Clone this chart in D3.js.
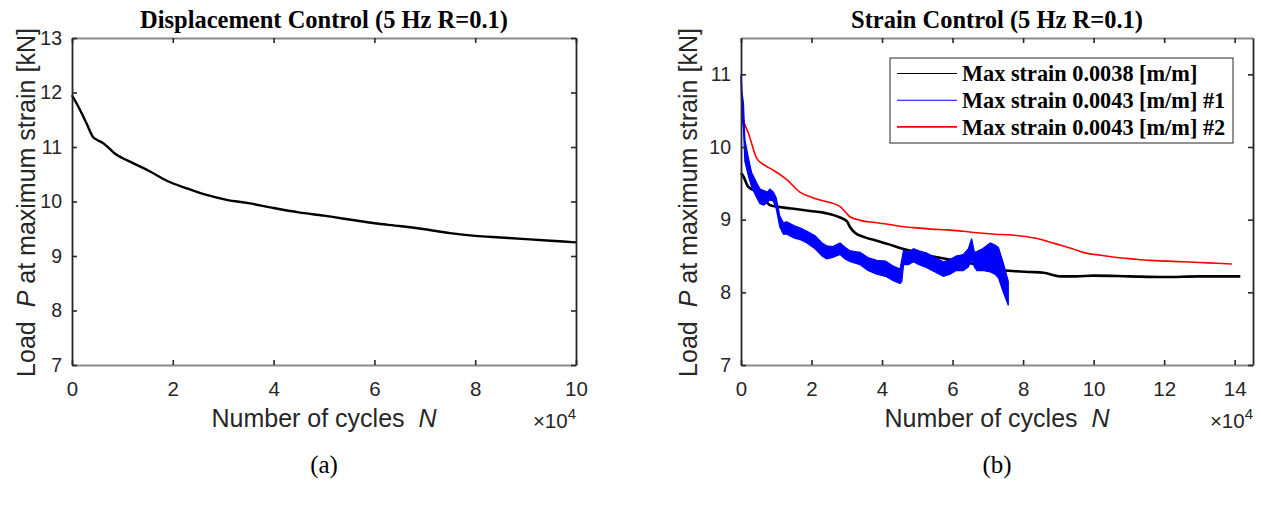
<!DOCTYPE html>
<html>
<head>
<meta charset="utf-8">
<script src="https://cdn.jsdelivr.net/npm/d3@7"></script>
<style>
  body { margin: 0; background: #fff; }
  .tickText { font-family: Arial, "Liberation Sans", sans-serif; fill: #262626; }
  .axisLabel { font-family: Arial, "Liberation Sans", sans-serif; font-size: 25px; fill: #262626; white-space: pre; }
  .title { font-family: "Times New Roman", "Liberation Serif", serif; font-weight: bold; font-size: 24.5px; fill: #000; }
  .caption { font-family: "Times New Roman", "Liberation Serif", serif; font-size: 25px; fill: #000; }
  .legendText { font-family: "Times New Roman", "Liberation Serif", serif; font-weight: bold; font-size: 22.3px; fill: #000; }
</style>
</head>
<body>
<svg id="chart" width="1261" height="507"></svg>
<script>

/////////////////////////////////
// DATA (cycles in units of 10^4, load in kN)
//////////////////////////////////

// (a) displacement control
var dispCycles = [0, 0.16, 0.29, 0.42, 0.5, 0.62, 0.85, 1.22, 1.55, 1.88, 2.28, 2.67, 3.07, 3.5, 4.0, 4.5, 5.0, 5.5, 6.0, 6.5, 7.0, 7.5, 8.0, 8.5, 9.0, 9.5, 10];
var dispLoad   = [11.95, 11.68, 11.43, 11.18, 11.13, 11.07, 10.88, 10.70, 10.55, 10.38, 10.24, 10.12, 10.03, 9.97, 9.88, 9.80, 9.74, 9.67, 9.60, 9.55, 9.49, 9.42, 9.37, 9.34, 9.31, 9.28, 9.25];

// (b) strain control, max strain 0.0038
var s38Cycles = [0, 0.05, 0.21, 0.54, 0.82, 1.0, 1.5, 1.96, 2.4, 2.81, 3.0, 3.09, 3.23, 3.5, 3.85, 4.2, 4.51, 4.9, 5.27, 5.6, 5.93, 6.3, 6.7, 7.0, 7.35, 7.8, 8.2, 8.58, 9.05, 9.5, 10, 11, 12, 13, 14.16];
var s38Load   = [9.64, 9.61, 9.45, 9.36, 9.2, 9.18, 9.15, 9.12, 9.09, 9.03, 8.98, 8.9, 8.82, 8.76, 8.71, 8.66, 8.61, 8.56, 8.51, 8.48, 8.45, 8.42, 8.38, 8.35, 8.31, 8.29, 8.28, 8.27, 8.22, 8.22, 8.23, 8.22, 8.21, 8.22, 8.22];

// (b) max strain 0.0043 #1 -- very noisy, so kept as upper / lower envelope of the band
var s43aCycles = [0, 0.03, 0.07, 0.11, 0.21, 0.3, 0.45, 0.54, 0.65, 0.75, 0.82, 0.92, 1.0, 1.1, 1.2, 1.3, 1.5, 1.7, 1.87, 2.1, 2.3, 2.43, 2.6, 2.81, 2.95, 3.1, 3.38, 3.6, 3.85, 4.1, 4.32, 4.51, 4.56, 4.61, 4.75, 4.89, 5.05, 5.27, 5.5, 5.74, 5.93, 6.1, 6.3, 6.45, 6.54, 6.62, 6.69, 6.85, 7.07, 7.2, 7.3, 7.44, 7.58];
var s43aUpper  = [11.0, 10.75, 10.6, 10.1, 9.85, 9.65, 9.5, 9.42, 9.4, 9.38, 9.42, 9.38, 9.3, 9.05, 8.96, 8.97, 8.92, 8.88, 8.84, 8.78, 8.68, 8.64, 8.63, 8.68, 8.62, 8.57, 8.55, 8.48, 8.44, 8.43, 8.36, 8.32, 8.45, 8.58, 8.55, 8.6, 8.57, 8.54, 8.48, 8.42, 8.45, 8.5, 8.52, 8.6, 8.74, 8.55, 8.56, 8.6, 8.68, 8.65, 8.62, 8.4, 8.15];
var s43aLower  = [10.9, 10.4, 10.25, 9.8, 9.6, 9.45, 9.3, 9.22, 9.2, 9.24, 9.28, 9.25, 9.15, 8.9, 8.8, 8.8, 8.75, 8.72, 8.68, 8.6, 8.5, 8.46, 8.48, 8.52, 8.46, 8.42, 8.38, 8.3, 8.25, 8.22, 8.16, 8.12, 8.15, 8.38, 8.38, 8.42, 8.38, 8.34, 8.28, 8.22, 8.25, 8.3, 8.3, 8.35, 8.45, 8.35, 8.3, 8.3, 8.28, 8.25, 8.2, 8.0, 7.82];

// (b) max strain 0.0043 #2
var s43bCycles = [0, 0.02, 0.1, 0.21, 0.45, 0.7, 0.92, 1.3, 1.67, 2.0, 2.24, 2.81, 3.09, 3.38, 3.8, 4.13, 4.5, 4.89, 5.4, 5.84, 6.3, 6.69, 7.2, 7.63, 8.29, 8.7, 9.05, 9.4, 9.7, 10.2, 10.66, 11.1, 11.6, 12.1, 12.55, 13.0, 13.5, 13.92];
var s43bLoad   = [10.44, 10.44, 10.32, 10.19, 9.84, 9.74, 9.68, 9.55, 9.38, 9.31, 9.27, 9.18, 9.04, 8.99, 8.96, 8.94, 8.91, 8.89, 8.87, 8.86, 8.84, 8.82, 8.80, 8.79, 8.75, 8.70, 8.65, 8.60, 8.55, 8.51, 8.48, 8.46, 8.44, 8.43, 8.42, 8.41, 8.40, 8.39];

var legendLabels = ["Max strain 0.0038 [m/m]", "Max strain 0.0043 [m/m] #1", "Max strain 0.0043 [m/m] #2"];
var legendColors = ["#000000", "#0000ff", "#ff0000"];

var xTicksA = [0, 2, 4, 6, 8, 10];
var yTicksA = [7, 8, 9, 10, 11, 12, 13];
var xTicksB = [0, 2, 4, 6, 8, 10, 12, 14];
var yTicksB = [7, 8, 9, 10, 11];

var titles = ["Displacement Control (5 Hz R=0.1)", "Strain Control (5 Hz R=0.1)"];
var captions = ["(a)", "(b)"];


/////////////////////////////////
// HELPERS
//////////////////////////////////

var svg = d3.select("#chart");

function zip(xs, ys) {
  return xs.map(function(d, i) { return [d, ys[i]]; });
}

function drawPanel(p) {

  var x = d3.scaleLinear().domain(p.xDomain).range([p.left, p.right]);
  var y = d3.scaleLinear().domain(p.yDomain).range([p.bottom, p.top]);
  var g = svg.append("g");

  // series first so the axes sit on top
  p.draw(g, x, y);

  var tick = 5;

  var bottomAxis = g.append("g")
    .attr("transform", "translate(0," + p.bottom + ")")
    .call(d3.axisBottom(x).tickValues(p.xTicks).tickSizeInner(-tick).tickSizeOuter(0).tickPadding(16).tickFormat(d3.format("d")));
  var topAxis = g.append("g")
    .attr("transform", "translate(0," + p.top + ")")
    .call(d3.axisTop(x).tickValues(p.xTicks).tickSizeInner(-tick).tickSizeOuter(0).tickFormat(""));
  var leftAxis = g.append("g")
    .attr("transform", "translate(" + p.left + ",0)")
    .call(d3.axisLeft(y).tickValues(p.yTicks).tickSizeInner(-tick).tickSizeOuter(0).tickPadding(10).tickFormat(d3.format("d")));
  var rightAxis = g.append("g")
    .attr("transform", "translate(" + p.right + ",0)")
    .call(d3.axisRight(y).tickValues(p.yTicks).tickSizeInner(-tick).tickSizeOuter(0).tickFormat(""));

  [bottomAxis, topAxis].forEach(function(a) {
    a.select(".domain").attr("stroke", "#8a8a8a").attr("stroke-width", 1.8);
  });
  [leftAxis, rightAxis].forEach(function(a) {
    a.select(".domain").attr("stroke", "#262626").attr("stroke-width", 1.8);
  });
  g.selectAll(".tick line").attr("stroke", "#262626").attr("stroke-width", 1.6);

  bottomAxis.selectAll("text").attr("class", "tickText").style("font-size", "20.5px");
  leftAxis.selectAll("text").attr("class", "tickText").style("font-size", "19.5px");

  var cx = (p.left + p.right) / 2;
  var cy = (p.top + p.bottom) / 2;

  // x label
  var xl = g.append("text")
    .attr("class", "axisLabel")
    .attr("text-anchor", "middle")
    .attr("x", cx)
    .attr("y", 427);
  xl.append("tspan").text("Number of cycles  ");
  xl.append("tspan").style("font-style", "italic").text("N");

  // x10^4 exponent
  var ex = g.append("text")
    .attr("class", "tickText")
    .attr("text-anchor", "end")
    .attr("x", p.right)
    .attr("y", 428)
    .style("font-size", "20.5px");
  ex.append("tspan").text("\u00d710");
  ex.append("tspan").attr("dy", -9).style("font-size", "15px").text("4");

  // y label
  var yl = g.append("text")
    .attr("class", "axisLabel")
    .attr("text-anchor", "middle")
    .attr("transform", "translate(" + p.yLabelX + "," + (cy + 1) + ") rotate(-90)");
  yl.append("tspan").text("Load  ");
  yl.append("tspan").style("font-style", "italic").text("P");
  yl.append("tspan").text(" at maximum strain [kN]");

  g.append("text")
    .attr("class", "title")
    .attr("text-anchor", "middle")
    .attr("x", cx)
    .attr("y", 28)
    .text(p.title);

  g.append("text")
    .attr("class", "caption")
    .attr("text-anchor", "middle")
    .attr("x", cx)
    .attr("y", 473)
    .text(p.caption);

  return {x: x, y: y, g: g};
}


/////////////////////////////////
// PANEL (a)
//////////////////////////////////

drawPanel({
  left: 72, right: 576, top: 38, bottom: 365,
  xDomain: [0, 10], yDomain: [7, 13],
  xTicks: xTicksA, yTicks: yTicksA,
  yLabelX: 35,
  title: titles[0], caption: captions[0],
  draw: function(g, x, y) {
    var line = d3.line().curve(d3.curveMonotoneX).x(function(d) { return x(d[0]); }).y(function(d) { return y(d[1]); });
    g.append("path")
      .datum(zip(dispCycles, dispLoad))
      .attr("fill", "none")
      .attr("stroke", "#000")
      .attr("stroke-width", 2.4)
      .attr("d", line);
  }
});


/////////////////////////////////
// PANEL (b)
//////////////////////////////////

var panelB = drawPanel({
  left: 741, right: 1253, top: 38, bottom: 365,
  xDomain: [0, 14.52], yDomain: [7, 11.5],
  xTicks: xTicksB, yTicks: yTicksB,
  yLabelX: 697,
  title: titles[1], caption: captions[1],
  draw: function(g, x, y) {
    var line = d3.line().curve(d3.curveMonotoneX).x(function(d) { return x(d[0]); }).y(function(d) { return y(d[1]); });

    g.append("path")
      .datum(zip(s38Cycles, s38Load))
      .attr("fill", "none")
      .attr("stroke", "#000")
      .attr("stroke-width", 2.6)
      .attr("d", line);

    g.append("path")
      .datum(zip(s43bCycles, s43bLoad))
      .attr("fill", "none")
      .attr("stroke", "#ff0000")
      .attr("stroke-width", 1.6)
      .attr("d", line);

    var band = d3.area()
      .x(function(d, i) { return x(s43aCycles[i]); })
      .y0(function(d, i) { return y(s43aLower[i]); })
      .y1(function(d, i) { return y(s43aUpper[i]); });

    g.append("path")
      .datum(s43aCycles)
      .attr("fill", "#0000ff")
      .attr("stroke", "#0000ff")
      .attr("stroke-width", 1.2)
      .attr("d", band);
  }
});


/////////////////////////////////
// LEGEND
//////////////////////////////////

var legend = panelB.g.append("g").attr("transform", "translate(890,58)");

legend.append("rect")
  .attr("width", 343)
  .attr("height", 85)
  .attr("fill", "#fff")
  .attr("stroke", "#262626")
  .attr("stroke-width", 1);

var rows = legend.selectAll(".row")
  .data(legendLabels)
  .enter()
  .append("g")
  .attr("class", "row")
  .attr("transform", function(d, i) { return "translate(0," + (15.5 + i * 26.7) + ")"; });

rows.append("line")
  .attr("x1", 7).attr("x2", 67)
  .attr("stroke", function(d, i) { return legendColors[i]; })
  .attr("stroke-width", function(d, i) { return i == 2 ? 1.6 : 1.1; });

rows.append("text")
  .attr("class", "legendText")
  .attr("x", 72)
  .attr("dy", "0.35em")
  .text(function(d) { return d; });

</script>
</body>
</html>
